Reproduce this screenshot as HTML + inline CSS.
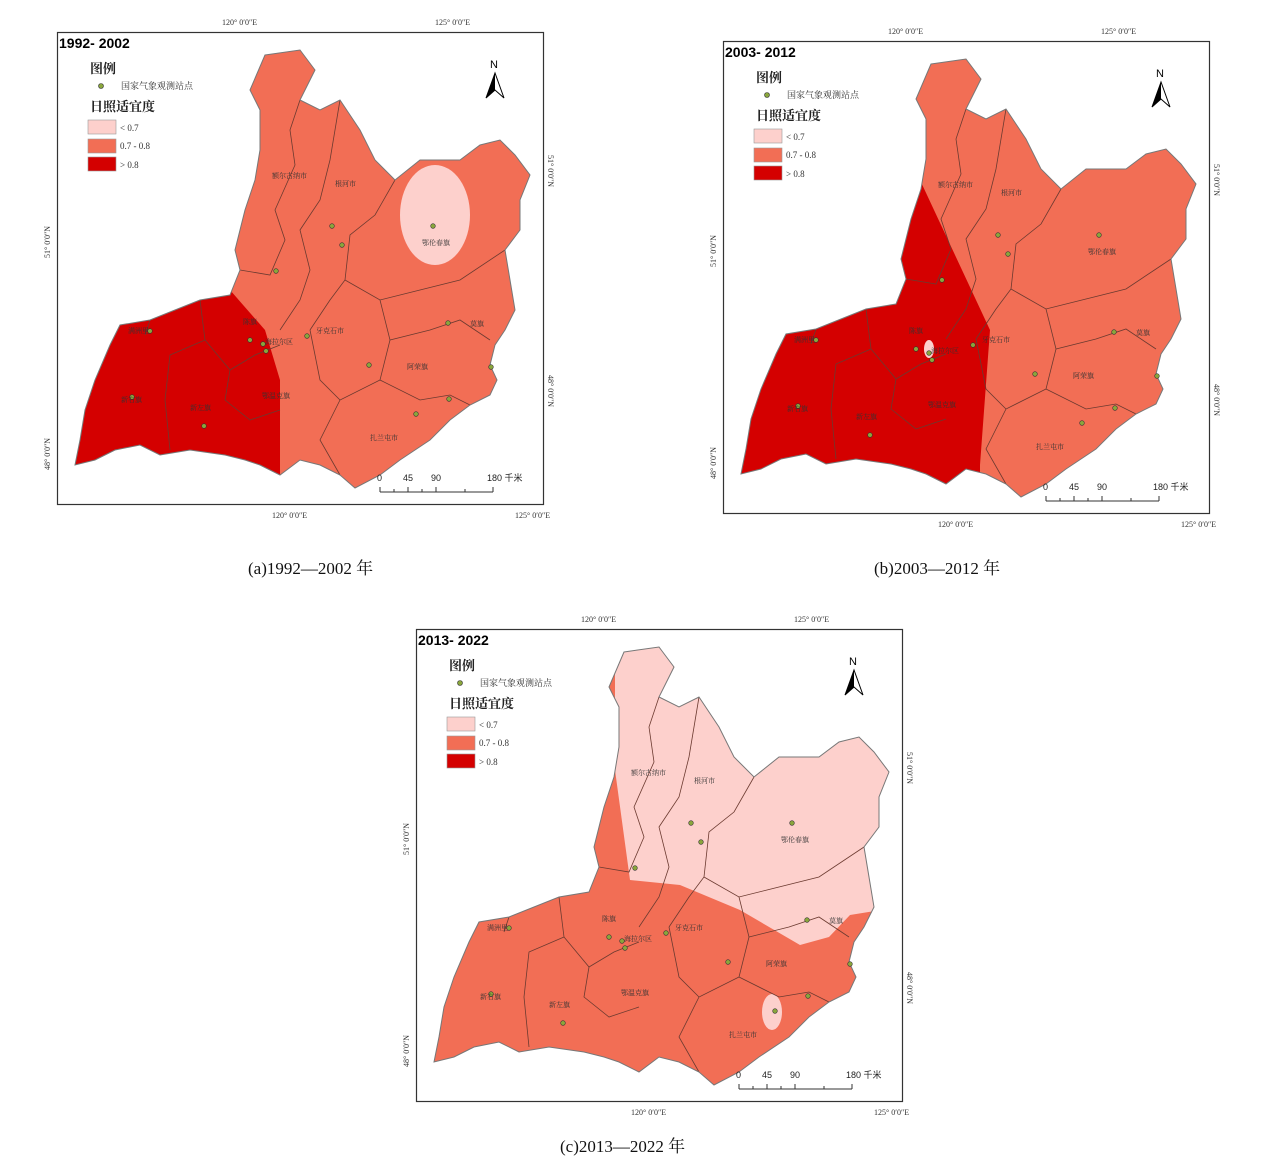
<!DOCTYPE html>
<html><head><meta charset="utf-8"><style>
html,body{margin:0;padding:0;background:#fff;}
svg{display:block;font-family:"Liberation Serif","Noto Serif CJK SC",serif;}
.s{font-size:8px;fill:#333;}
</style></head><body>
<svg width="1271" height="1164" viewBox="0 0 1271 1164" xmlns="http://www.w3.org/2000/svg">
<defs>
<path id="ol" d="M265,55 L300,50 L315,70 L300,100 L320,110 L340,100 L360,130 L375,160 L395,180 L420,160 L460,160 L480,145 L500,140 L515,155 L530,175 L520,200 L520,230 L505,250 L510,280 L515,310 L505,330 L495,345 L490,365 L497,380 L490,395 L470,405 L450,420 L430,440 L400,460 L380,475 L355,488 L340,475 L320,465 L300,460 L280,475 L260,465 L245,460 L225,455 L190,450 L160,455 L140,445 L115,450 L95,460 L75,465 L80,440 L85,410 L95,380 L110,345 L120,325 L150,320 L175,310 L200,300 L230,295 L240,270 L235,250 L240,230 L245,210 L255,180 L260,150 L260,110 L250,90 Z"/>
<clipPath id="cp"><use href="#ol"/></clipPath>
<g id="frame">
  <rect x="57.5" y="32.5" width="486" height="472" fill="none" stroke="#333" stroke-width="1.2"/>
  <text class="s" x="222" y="25">120° 0′0″E</text>
  <text class="s" x="435" y="25">125° 0′0″E</text>
  <text class="s" x="272" y="518">120° 0′0″E</text>
  <text class="s" x="515" y="518">125° 0′0″E</text>
  <text class="s" transform="translate(50,258) rotate(-90)">51° 0′0″N</text>
  <text class="s" transform="translate(50,470) rotate(-90)">48° 0′0″N</text>
  <text class="s" transform="translate(548,155) rotate(90)">51° 0′0″N</text>
  <text class="s" transform="translate(548,375) rotate(90)">48° 0′0″N</text>
  <text x="90" y="73" style="font-size:13px;font-weight:bold;fill:#222">图例</text>
  <circle cx="101" cy="86" r="2.5" fill="#8aa63c" stroke="#333" stroke-width=".6"/>
  <text x="121" y="89" style="font-size:9px;fill:#333">国家气象观测站点</text>
  <text x="90" y="111" style="font-size:13px;font-weight:bold;fill:#222">日照适宜度</text>
  <rect x="88" y="120" width="28" height="14" fill="#fdd0cc" stroke="#999" stroke-width=".6"/>
  <text x="120" y="131" style="font-size:9px;fill:#333">&lt; 0.7</text>
  <rect x="88" y="139" width="28" height="14" fill="#f26e55" stroke="#999" stroke-width=".6"/>
  <text x="120" y="149" style="font-size:9px;fill:#333">0.7 - 0.8</text>
  <rect x="88" y="157" width="28" height="14" fill="#d40000" stroke="#999" stroke-width=".6"/>
  <text x="120" y="168" style="font-size:9px;fill:#333">&gt; 0.8</text>
  <text x="490" y="68" style="font-size:11px;font-family:'Liberation Sans',sans-serif">N</text>
  <path d="M495,73 L486,98 L495,90 L504,98 Z" fill="#fff" stroke="#000"/>
  <path d="M495,73 L495,90 L486,98 Z" fill="#000"/>
  <g style="font-size:9px;font-family:'Liberation Sans','Noto Sans CJK SC',sans-serif;fill:#222">
   <text x="377" y="481">0</text><text x="403" y="481">45</text><text x="431" y="481">90</text><text x="487" y="481">180 千米</text>
  </g>
  <path d="M380,492 L493,492 M380,487 L380,492 M394,489 L394,492 M408,487 L408,492 M422,489 L422,492 M436,487 L436,492 M465,489 L465,492 M493,487 L493,492" stroke="#333" fill="none"/>
</g>
<g id="lines" fill="none" stroke="#6b3a30" stroke-width=".8">
  <path d="M300,100 L290,130 L295,165 L275,210 L285,240 L270,275 L240,270"/>
  <path d="M340,100 L330,160 L320,200 L300,230 L310,270 L300,300 L280,330"/>
  <path d="M395,180 L375,215 L350,235 L345,280 L330,300 L310,330"/>
  <path d="M345,280 L380,300 L420,290 L460,280 L505,250"/>
  <path d="M380,300 L390,340 L430,330 L460,320 L490,340"/>
  <path d="M390,340 L380,380 L420,400 L450,395 L470,405"/>
  <path d="M380,380 L340,400 L320,440 L340,475"/>
  <path d="M310,330 L320,380 L340,400"/>
  <path d="M200,300 L205,340 L170,355 L165,400 L170,450"/>
  <path d="M205,340 L230,370 L225,400 L250,420 L280,410"/>
  <path d="M230,370 L255,355 L280,345"/>
  <path d="M150,320 L145,335"/>
</g>
<g id="dots" fill="#8aa63c" stroke="#333" stroke-width=".6">
  <circle cx="332" cy="226" r="2.3"/><circle cx="342" cy="245" r="2.3"/><circle cx="276" cy="271" r="2.3"/>
  <circle cx="433" cy="226" r="2.3"/><circle cx="448" cy="323" r="2.3"/><circle cx="491" cy="367" r="2.3"/>
  <circle cx="369" cy="365" r="2.3"/><circle cx="449" cy="399" r="2.3"/><circle cx="416" cy="414" r="2.3"/>
  <circle cx="307" cy="336" r="2.3"/><circle cx="250" cy="340" r="2.3"/><circle cx="263" cy="344" r="2.3"/>
  <circle cx="266" cy="351" r="2.3"/><circle cx="150" cy="331" r="2.3"/><circle cx="132" cy="397" r="2.3"/>
  <circle cx="204" cy="426" r="2.3"/>
</g>
<g id="names" style="font-size:7px;fill:#333">
  <text x="272" y="178">额尔古纳市</text><text x="335" y="186">根河市</text><text x="422" y="245">鄂伦春旗</text>
  <text x="470" y="326">莫旗</text><text x="316" y="333">牙克石市</text><text x="407" y="369">阿荣旗</text>
  <text x="370" y="440">扎兰屯市</text><text x="243" y="324">陈旗</text><text x="265" y="344">海拉尔区</text>
  <text x="262" y="398">鄂温克旗</text><text x="128" y="333">满洲里</text><text x="121" y="402">新右旗</text><text x="190" y="410">新左旗</text>
</g>
</defs>

<!-- panel a -->
<g>
  <use href="#ol" fill="#f26e55"/>
  <g clip-path="url(#cp)">
    <path d="M40,280 L230,290 L265,330 L280,380 L280,500 L40,500 Z" fill="#d40000"/>
    <ellipse cx="435" cy="215" rx="35" ry="50" fill="#fdd0cc"/>
  </g>
  <use href="#lines"/><use href="#ol" fill="none" stroke="#777" stroke-width="1"/>
  <use href="#dots"/><use href="#names"/><use href="#frame"/>
  <text x="59" y="48" style="font-size:14px;font-weight:bold;font-family:'Liberation Sans',sans-serif">1992- 2002</text>
</g>
<!-- panel b -->
<g transform="translate(666,9)">
  <use href="#ol" fill="#f26e55"/>
  <g clip-path="url(#cp)">
    <path d="M40,100 L248,100 L254,171 L324,321 L314,456 L314,500 L40,500 Z" fill="#d40000"/>
    <ellipse cx="263" cy="340" rx="5" ry="9" fill="#fdd0cc"/>
  </g>
  <use href="#lines"/><use href="#ol" fill="none" stroke="#777" stroke-width="1"/>
  <use href="#dots"/><use href="#names"/><use href="#frame"/>
  <text x="59" y="48" style="font-size:14px;font-weight:bold;font-family:'Liberation Sans',sans-serif">2003- 2012</text>
</g>
<!-- panel c -->
<g transform="translate(359,597)">
  <use href="#ol" fill="#f26e55"/>
  <g clip-path="url(#cp)">
    <path d="M256,40 L540,40 L540,310 L491,318 L470,340 L441,348 L381,313 L321,288 L271,283 L256,173 Z" fill="#fdd0cc"/>
    <ellipse cx="413" cy="415" rx="10" ry="18" fill="#fdd0cc"/>
  </g>
  <use href="#lines"/><use href="#ol" fill="none" stroke="#777" stroke-width="1"/>
  <use href="#dots"/><use href="#names"/><use href="#frame"/>
  <text x="59" y="48" style="font-size:14px;font-weight:bold;font-family:'Liberation Sans',sans-serif">2013- 2022</text>
</g>

<g style="font-size:17px;fill:#111">
  <text x="248" y="574">(a)1992—2002 年</text>
  <text x="874" y="574">(b)2003—2012 年</text>
  <text x="560" y="1152">(c)2013—2022 年</text>
</g>
</svg>
</body></html>
